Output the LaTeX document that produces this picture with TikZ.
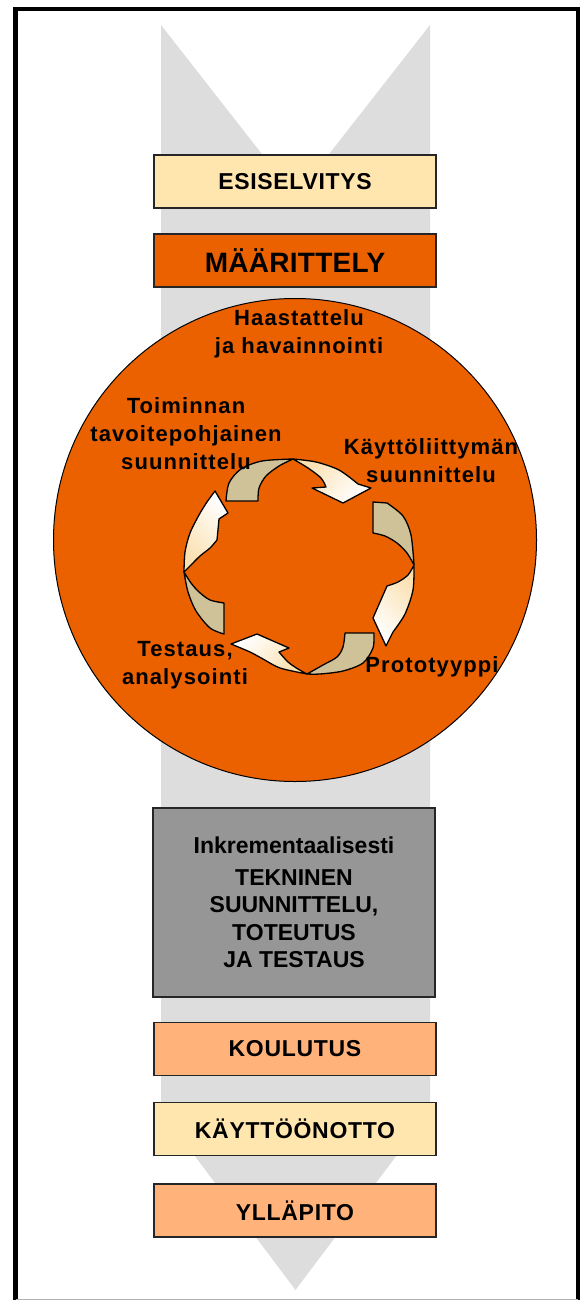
\documentclass[tikz,border=0pt]{standalone}
\usepackage{fontspec}
\setmainfont{Liberation Sans}
\usetikzlibrary{calc}
\definecolor{bandgray}{HTML}{DDDDDD}
\definecolor{paleyellow}{HTML}{FFE5AE}
\definecolor{deeporange}{HTML}{EB6100}
\definecolor{peach}{HTML}{FFB27A}
\definecolor{midgray}{HTML}{969696}
\definecolor{ribbontan}{HTML}{CFC198}
\definecolor{ribboncream}{HTML}{FBE0B0}

\begin{document}
\begin{tikzpicture}[x=1pt,y=-1pt,
  phase/.style={draw=black!85, line width=1.5pt, minimum width=282pt,
    minimum height=53pt, inner sep=0pt,
    font=\fontsize{23}{27}\selectfont\bfseries\addfontfeature{LetterSpace=3}},
  cyclelabel/.style={inner sep=0pt, align=center,
    font=\fontsize{22}{28}\selectfont\bfseries\addfontfeature{LetterSpace=5}},
  tanpart/.style={fill=ribbontan, draw=black, line width=1.3pt, line join=round},
  creampart/.style={draw=black, line width=1.3pt, line join=round,
    top color=ribboncream, bottom color=white}]

\useasboundingbox (0,0) rectangle (582,1300);
\fill[white] (0,0) rectangle (582,1300);
\clip (0,0) rectangle (582,1300);

% background chevron running through the whole process
\fill[bandgray] (161,25) -- (295.5,197) -- (430,25) -- (430,1111)
  -- (295.5,1290) -- (161,1111) -- cycle;

% frame
\draw[line width=4.5pt] (15.5,1320) -- (15.5,9) -- (577.8,9) -- (577.8,1320);
\draw[black!30, line width=1pt] (15.5,1299.5) -- (577.8,1299.5);

% phases
\node[phase, fill=paleyellow] (esiselvitys) at (295,181.5) {ESISELVITYS};
\node[phase, fill=deeporange,
  font=\fontsize{28}{32}\selectfont\bfseries\addfontfeature{LetterSpace=1}]
  (maarittely) at (295,260.5) {MÄÄRITTELY};

\node[circle, draw=black, line width=1pt, fill=deeporange, minimum size=483pt,
  inner sep=0pt] (kierros) at (295,540) {};

\node[phase, fill=midgray, minimum height=189pt, align=center,
  font=\fontsize{23}{27.5}\selectfont\bfseries] (toteutus) at (294,902.5)
  {Inkrementaalisesti\\[4pt]TEKNINEN\\SUUNNITTELU,\\TOTEUTUS\\JA TESTAUS};

\node[phase, fill=peach] (koulutus) at (295,1049) {KOULUTUS};
\node[phase, fill=paleyellow] (kayttoonotto) at (295,1129) {KÄYTTÖÖNOTTO};
\node[phase, fill=peach] (yllapito) at (295,1210.5) {YLLÄPITO};

% iteration cycle: four twisted ribbon arrows, clockwise
% top arrow
\filldraw[tanpart] plot[smooth] coordinates {(226,501) (229,483) (241,469) (262,461) (293,459)}
  -- plot[smooth] coordinates {(293,459) (279,466) (266,476) (259,488) (258,501)} -- cycle;
\shadedraw[creampart, shading angle=45] plot[smooth] coordinates {(293,459) (316,462) (339,470) (358,484)}
  -- (371,488) -- (343,503) -- (312,488)
  -- plot[smooth] coordinates {(326,487) (321,478) (308,468) (293,459)} -- cycle;
% right arrow
\filldraw[tanpart] (373,533) -- (373,502) -- plot[smooth] coordinates {(387,503) (403,516) (411,535) (414,565)}
  -- plot[smooth] coordinates {(414,565) (407,553) (397,543) (385,536) (373,533)} -- cycle;
\shadedraw[creampart, shading angle=-45] plot[smooth] coordinates {(414,565) (413,590) (405,614) (393,632)}
  -- (386,646) -- (373,618) -- (387,586)
  -- plot[smooth] coordinates {(387,586) (398,582) (408,575) (414,565)} -- cycle;
% bottom arrow
\filldraw[tanpart] plot[smooth] coordinates {(374,633) (373,648) (363,663) (343,671) (320,674) (307,674)}
  -- plot[smooth] coordinates {(307,674) (323,665) (337,657) (343,647) (345,633)} -- cycle;
\shadedraw[creampart, shading angle=-135] plot[smooth] coordinates {(307,674) (280,668) (263,659) (250,652) (231,644)}
  -- (257,634) -- (289,648) -- (279,652)
  -- plot[smooth] coordinates {(279,652) (288,662) (298,669) (307,674)} -- cycle;
% left arrow
\filldraw[tanpart] plot[smooth] coordinates {(224,634) (210,628) (196,611) (188,592) (184,572)}
  -- plot[smooth] coordinates {(184,572) (191,583) (199,592) (210,600) (224,603)} -- cycle;
\shadedraw[creampart, shading angle=135] plot[smooth] coordinates {(184,572) (185,552) (190,533) (199,515) (207,502) (215,491)}
  -- (228,513) -- (219,519) -- (217,540)
  -- plot[smooth] coordinates {(217,540) (210,548) (200,556) (190,566) (184,572)} -- cycle;

% cycle step labels
\node[cyclelabel] (haastattelu) at (299,334) {Haastattelu\\ja havainnointi};
\node[cyclelabel] (toiminnan) at (186,433.5) {Toiminnan\\tavoitepohjainen\\suunnittelu};
\node[cyclelabel] (kayttoliittyma) at (431,461) {Käyttöliittymän\\suunnittelu};
\node[cyclelabel] (prototyyppi) at (432,667) {Prototyyppi};
\node[cyclelabel] (testaus) at (185,665) {Testaus,\\analysointi};

\end{tikzpicture}
\end{document}
